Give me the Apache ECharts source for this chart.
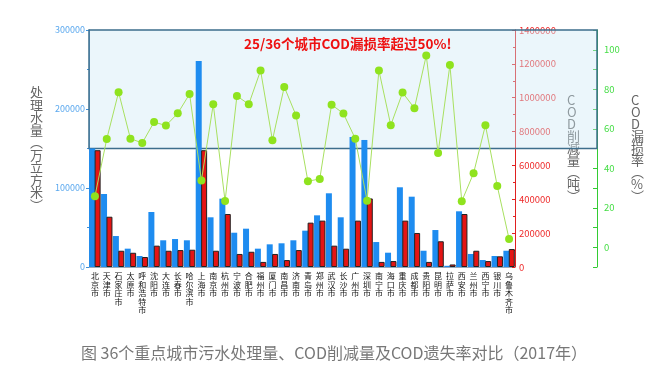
<!DOCTYPE html>
<html><head><meta charset="utf-8">
<script src="https://cdn.jsdelivr.net/npm/echarts@6/dist/echarts.min.js"></script>
<style>html,body{margin:0;padding:0;background:#fff}#c{width:668px;height:373px}</style>
</head><body><div id="c"></div>
<script>
const cities = ['北京市','天津市','石家庄市','太原市','呼和浩特市','沈阳市','大连市','长春市','哈尔滨市','上海市','南京市','杭州市','宁波市','合肥市','福州市','厦门市','南昌市','济南市','青岛市','郑州市','武汉市','长沙市','广州市','深圳市','南宁市','海口市','重庆市','成都市','贵阳市','昆明市','拉萨市','西安市','兰州市','西宁市','银川市','乌鲁木齐市'];
const waterTreated = [150000, 92400, 39200, 23200, 13900, 69600, 33800, 35400, 33800, 260800, 62900, 86500, 43400, 48500, 23200, 28700, 30000, 33800, 46000, 65400, 93300, 62900, 164600, 160800, 31600, 18100, 100900, 89000, 20600, 46800, 1500, 70500, 16500, 8900, 13900, 20600];
const codReduced = [690000, 297000, 96000, 84000, 59000, 126000, 96000, 100000, 102000, 690000, 96000, 313000, 77000, 90000, 30000, 77000, 41000, 100000, 262000, 274000, 126000, 108000, 274000, 405000, 30000, 35000, 274000, 201000, 30000, 152000, 15000, 313000, 96000, 35000, 63000, 106000];
const leakRate = [25.8, 54.8, 78.5, 55, 52.8, 63.4, 61.6, 67.8, 77.6, 33.8, 72.4, 23.4, 76.6, 72.4, 89.5, 54.2, 81.2, 66.7, 33.4, 34.6, 72.2, 67.7, 55, 23.6, 89.5, 61.8, 78.3, 70.4, 97.1, 47.7, 92.3, 23.3, 37.5, 61.8, 31, 4.2];
const highlightRange = [50, 110];
const headline = '25/36个城市COD漏损率超过50%!';
const caption = '图 36个重点城市污水处理量、COD削减量及COD遗失率对比（2017年）';
const leftName = '处理水量︵万立方米︶';
const redName = 'COD削减量︵吨︶';
const greenName = 'COD漏损率︵%︶';

const vert = s => s.split('').join('\n');
const plain = v => String(v);
const font = '"Noto Sans CJK SC","Noto Sans",sans-serif';
const chart = echarts.init(document.getElementById('c'), null, {renderer:'canvas'});
chart.setOption({
  animation:false,
  textStyle:{fontFamily:font},
  title:[
    {text:headline, left:239, top:32, z:30, textStyle:{color:'#ee1111', fontSize:13.5, fontWeight:'bold', fontFamily:font}},
    {text:caption, left:'center', top:340, textStyle:{color:'#777', fontSize:16, fontWeight:'normal', fontFamily:font}}
  ],
  grid:[
    {left:89, right:153, top:30, bottom:106},
    {left:89, right:71, top:30, bottom:106}
  ],
  xAxis:[
    {type:'category', gridIndex:0, data:cities,
     axisLine:{show:true, lineStyle:{color:'#9ab'}}, axisTick:{show:false},
     axisLabel:{interval:0, formatter:v=>vert(v), fontSize:8, lineHeight:8.5, color:'#111', margin:5, fontFamily:'"Noto Sans CJK SC",serif'}},
    {type:'value', gridIndex:1, min:0, max:1, show:false}
  ],
  yAxis:[
    {type:'value', gridIndex:0, position:'left', min:0, max:300000, interval:100000,
     axisLine:{show:true, lineStyle:{color:'#3d8fd8'}},
     axisTick:{show:true, length:3, lineStyle:{color:'#3d8fd8'}},
     minorTick:{show:true, splitNumber:2, length:2, lineStyle:{color:'#3d8fd8'}},
     splitLine:{show:false},
     axisLabel:{color:'#5aa8ee', fontSize:9, margin:4, formatter:plain},
     name:vert(leftName), nameLocation:'middle', nameGap:46, nameRotate:0,
     nameTextStyle:{color:'#666', fontSize:13, lineHeight:12.5}},
    {type:'value', gridIndex:0, position:'right', min:0, max:1400000, interval:200000,
     axisLine:{show:true, lineStyle:{color:'#e02020'}},
     axisTick:{show:true, inside:true, length:3, lineStyle:{color:'#e02020'}},
     minorTick:{show:true, splitNumber:2, length:2, lineStyle:{color:'#e02020'}},
     splitLine:{show:false},
     axisLabel:{color:'#ee2a2a', fontSize:9.5, margin:4, formatter:plain},
     name:vert(redName), nameLocation:'middle', nameGap:52, nameRotate:0,
     nameTextStyle:{color:'#666', fontSize:13, lineHeight:12}},
    {type:'value', gridIndex:0, position:'right', offset:82, min:-10, max:110, interval:10,
     axisLine:{show:true, lineStyle:{color:'#33cc33'}},
     axisTick:{show:true, inside:true, length:4, lineStyle:{color:'#33cc33'}},
     splitLine:{show:false},
     axisLabel:{color:'#44dd44', fontSize:9.5, margin:7, formatter:v=>(v%20===0 && v>=0 && v<=100)?String(v):''},
     name:vert(greenName), nameLocation:'middle', nameGap:34, nameRotate:0,
     nameTextStyle:{color:'#666', fontSize:13, lineHeight:12}},
    {type:'value', gridIndex:1, min:-10, max:110, show:false}
  ],
  series:[
    {name:'处理水量', type:'bar', xAxisIndex:0, yAxisIndex:0, data:waterTreated,
     barWidth:6, barGap:'-10%', itemStyle:{color:'#1e8cf0'}, z:2},
    {name:'COD削减量', type:'bar', xAxisIndex:0, yAxisIndex:1, data:codReduced,
     barWidth:6, barGap:'-10%', itemStyle:{color:'#e41414', borderColor:'#222', borderWidth:1}, z:3},
    {name:'COD漏损率', type:'line', xAxisIndex:0, yAxisIndex:2, data:leakRate,
     symbol:'circle', symbolSize:8, itemStyle:{color:'#8fe31e'},
     lineStyle:{color:'#a8e060', width:1}, z:5},
    {name:'overlay', type:'line', xAxisIndex:1, yAxisIndex:3, data:[[0,50]], symbol:'none',
     lineStyle:{opacity:0}, z:20, silent:true,
     markArea:{silent:true, itemStyle:{color:'rgba(205,232,246,0.4)', borderColor:'#3d6e8c', borderWidth:1.5},
       data:[[{xAxis:0, yAxis:highlightRange[0]},{xAxis:1, yAxis:highlightRange[1]}]]}}
  ]
});
</script></body></html>
